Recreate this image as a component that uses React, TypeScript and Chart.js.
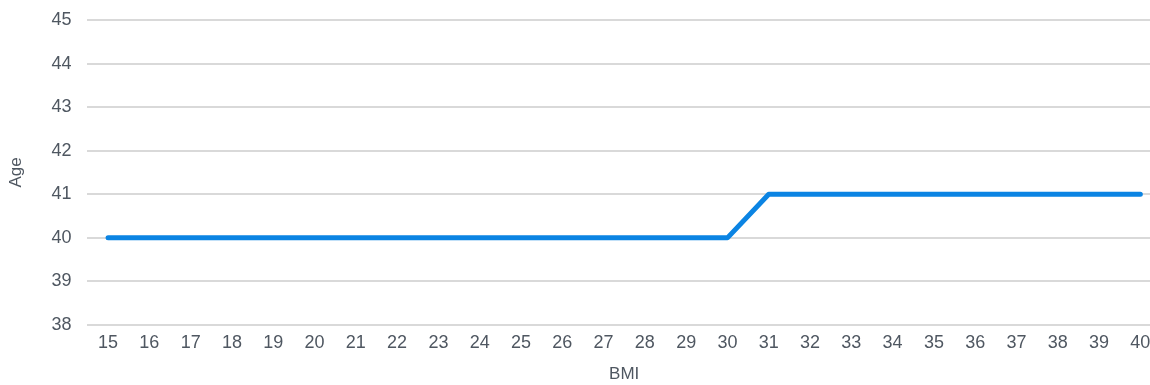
import React, { useEffect, useRef } from "react";
import { Chart, registerables } from "chart.js";

Chart.register(...registerables);

const bmiLabels: string[] = [
  "15", "16", "17", "18", "19", "20", "21", "22", "23", "24", "25", "26", "27",
  "28", "29", "30", "31", "32", "33", "34", "35", "36", "37", "38", "39", "40",
];

const ageValues: number[] = [
  40, 40, 40, 40, 40, 40, 40, 40, 40, 40, 40, 40, 40, 40, 40, 40,
  41, 41, 41, 41, 41, 41, 41, 41, 41, 41,
];

const yMin = 38;
const yMax = 45;

const textColor = "#4f5761";
const gridColor = "#d9d9d9";
const lineColor = "#0b84e3";
const fontFamily = "Liberation Sans, Arial, sans-serif";

export default function App() {
  const canvasRef = useRef<HTMLCanvasElement | null>(null);

  useEffect(() => {
    document.body.style.margin = "0";
    const canvas = canvasRef.current;
    if (!canvas) return;
    const chart = new Chart(canvas, {
      type: "line",
      data: {
        labels: bmiLabels,
        datasets: [
          {
            label: "Age",
            data: ageValues,
            borderColor: lineColor,
            backgroundColor: lineColor,
            borderWidth: 5,
            borderCapStyle: "round",
            borderJoinStyle: "round",
            pointRadius: 0,
            tension: 0,
          },
        ],
      },
      options: {
        responsive: false,
        animation: false,
        layout: { padding: { left: 6, right: 0, top: 20, bottom: 0 } },
        plugins: {
          legend: { display: false },
          tooltip: { enabled: false },
        },
        scales: {
          x: {
            offset: true,
            grid: { display: false, drawTicks: false },
            border: { display: false },
            ticks: {
              color: textColor,
              font: { family: fontFamily, size: 18 },
              padding: 7,
              maxRotation: 0,
              autoSkip: false,
            },
            title: {
              display: true,
              text: "BMI",
              color: textColor,
              font: { family: fontFamily, size: 17 },
              padding: { top: 4, bottom: 0 },
            },
          },
          y: {
            min: yMin,
            max: yMax,
            grid: {
              color: gridColor,
              lineWidth: 2,
              drawTicks: true,
              tickLength: 16,
              tickWidth: 0,
              tickColor: "rgba(0,0,0,0)",
            },
            border: { display: false },
            ticks: {
              stepSize: 1,
              color: textColor,
              font: { family: fontFamily, size: 18 },
              padding: 0,
            },
            title: {
              display: true,
              text: "Age",
              color: textColor,
              font: { family: fontFamily, size: 17 },
              padding: { top: 0, bottom: 25 },
            },
          },
        },
      },
    });
    return () => chart.destroy();
  }, []);

  // The plot area runs a little past the right edge of the visible frame.
  return (
    <div
      style={{
        position: "fixed",
        left: 0,
        top: 0,
        width: 1150,
        height: 385,
        overflow: "hidden",
      }}
    >
      <canvas ref={canvasRef} width={1161} height={385} style={{ display: "block" }} />
    </div>
  );
}
